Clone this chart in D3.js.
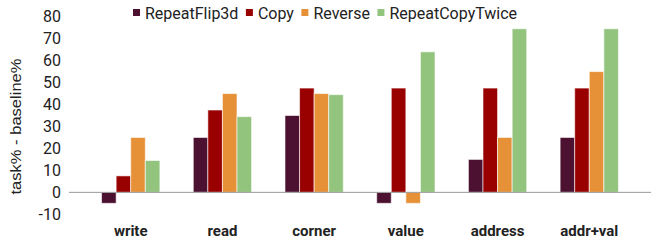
<!DOCTYPE html>
<html><head><meta charset="utf-8">
<script src="https://cdn.jsdelivr.net/npm/d3@7"></script>
<style>body{margin:0;background:#fff}svg{display:block;font-family:Roboto,sans-serif}</style>
</head><body>
<svg id="c" width="656" height="242"></svg>
<script>
const categories = ["write","read","corner","value","address","addr+val"];
const seriesNames = ["RepeatFlip3d","Copy","Reverse","RepeatCopyTwice"];
const seriesColors = ["#4c1130","#990000","#e69138","#93c47d"];
const repeatFlip3d = [-5, 25, 35, -5, 15, 25];
const copy = [7.5, 37.5, 47.5, 47.5, 47.5, 47.5];
const reverse = [25, 45, 45, -5, 25, 55];
const repeatCopyTwice = [14.5, 34.5, 44.5, 64, 74.5, 74.5];
const yTicks = [-10,0,10,20,30,40,50,60,70,80];
const yTitle = "task% - baseline%";

const series = [repeatFlip3d, copy, reverse, repeatCopyTwice];
const svg = d3.select("#c");
const y = d3.scaleLinear().domain([-10,80]).range([214.3,16.7]);
const x = d3.scaleBand().domain(categories).range([69,651]).paddingInner(0.364).paddingOuter(0.355);
const xs = d3.scaleBand().domain(seriesNames).range([0,x.bandwidth()]);

// y tick labels
svg.append("g").selectAll("text").data(yTicks).join("text")
  .attr("x",61).attr("y",d=>y(d)).attr("dy","0.35em")
  .attr("text-anchor","end").attr("font-size",16).attr("fill","#222").text(d=>d);

svg.append("text").attr("transform",`translate(20.5,126.5) rotate(-90)`)
  .attr("text-anchor","middle").attr("font-size",15.5).attr("fill","#222")
  .attr("font-family","Liberation Sans, Arial, sans-serif")
  .attr("textLength",136).attr("lengthAdjust","spacingAndGlyphs").text(yTitle);

// bars
const g = svg.append("g");
categories.forEach((c,i)=>{
  series.forEach((s,j)=>{
    const v = s[i];
    g.append("rect")
      .attr("x", x(c)+xs(seriesNames[j]))
      .attr("width", xs.bandwidth())
      .attr("y", y(Math.max(0,v)))
      .attr("height", Math.abs(y(v)-y(0)))
      .attr("fill", seriesColors[j])
      .attr("stroke","#fff").attr("stroke-opacity",0.6).attr("stroke-width",1);
  });
});

// zero line
svg.append("line").attr("x1",69).attr("x2",651).attr("y1",y(0)).attr("y2",y(0))
  .attr("stroke","#999").attr("stroke-width",1);

// category labels
svg.append("g").selectAll("text").data(categories).join("text")
  .attr("x",d=>x(d)+x.bandwidth()/2).attr("y",236)
  .attr("text-anchor","middle").attr("font-size",15).attr("font-weight","bold").attr("fill","#222").text(d=>d);

// legend
const lg = svg.append("g");
let lx = 133;
seriesNames.forEach((n,j)=>{
  lg.append("rect").attr("x",lx).attr("y",9).attr("width",7).attr("height",7).attr("fill",seriesColors[j]);
  const t = lg.append("text").attr("x",lx+12).attr("y",18.5).attr("font-size",16).attr("fill","#222").text(n);
  lx += 12 + t.node().getComputedTextLength() + 7.5;
});
</script>
</body></html>
